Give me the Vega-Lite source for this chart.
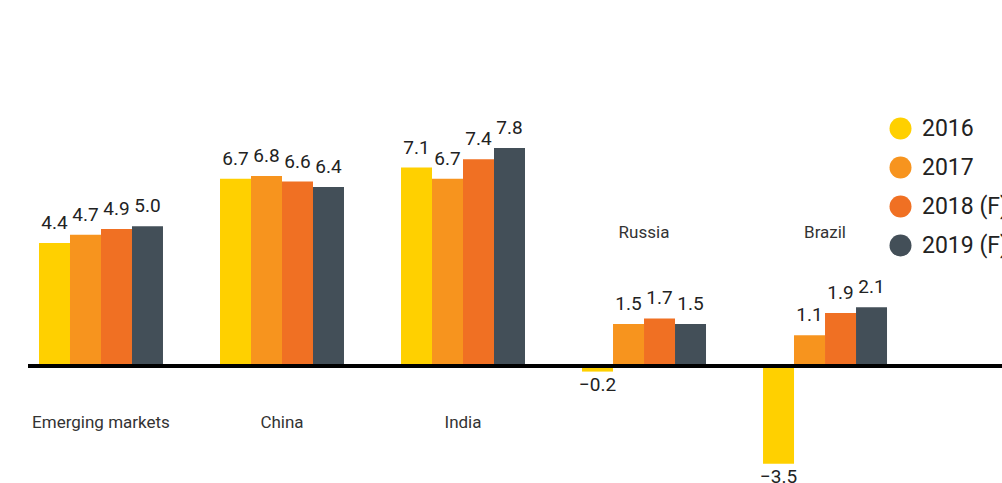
{
  "$schema": "https://vega.github.io/schema/vega-lite/v6.json",
  "width": 974,
  "height": 483,
  "padding": {"left": 28, "top": 0, "right": 0, "bottom": 0},
  "autosize": {"type": "none"},
  "config": {"view": {"stroke": null}, "font": "Roboto"},
  "data": {
    "values": [
      {"region": "Emerging markets", "year": "2016", "value": 4.4},
      {"region": "Emerging markets", "year": "2017", "value": 4.7},
      {"region": "Emerging markets", "year": "2018 (F)", "value": 4.9},
      {"region": "Emerging markets", "year": "2019 (F)", "value": 5.0},
      {"region": "China", "year": "2016", "value": 6.7},
      {"region": "China", "year": "2017", "value": 6.8},
      {"region": "China", "year": "2018 (F)", "value": 6.6},
      {"region": "China", "year": "2019 (F)", "value": 6.4},
      {"region": "India", "year": "2016", "value": 7.1},
      {"region": "India", "year": "2017", "value": 6.7},
      {"region": "India", "year": "2018 (F)", "value": 7.4},
      {"region": "India", "year": "2019 (F)", "value": 7.8},
      {"region": "Russia", "year": "2016", "value": -0.2},
      {"region": "Russia", "year": "2017", "value": 1.5},
      {"region": "Russia", "year": "2018 (F)", "value": 1.7},
      {"region": "Russia", "year": "2019 (F)", "value": 1.5},
      {"region": "Brazil", "year": "2016", "value": -3.5},
      {"region": "Brazil", "year": "2017", "value": 1.1},
      {"region": "Brazil", "year": "2018 (F)", "value": 1.9},
      {"region": "Brazil", "year": "2019 (F)", "value": 2.1}
    ]
  },
  "layer": [
    {
      "mark": {"type": "bar"},
      "encoding": {
        "x": {
          "field": "region", "type": "nominal",
          "sort": ["Emerging markets", "China", "India", "Russia", "Brazil"],
          "scale": {"paddingInner": 0.315, "paddingOuter": 0.348, "align": 0.0873},
          "axis": null
        },
        "xOffset": {
          "field": "year", "type": "nominal",
          "sort": ["2016", "2017", "2018 (F)", "2019 (F)"],
          "scale": {"paddingInner": 0, "paddingOuter": 0}
        },
        "y": {
          "field": "value", "type": "quantitative",
          "scale": {"domain": [-4.186, 13.095], "nice": false, "zero": false},
          "axis": null
        },
        "color": {
          "field": "year", "type": "nominal",
          "scale": {
            "domain": ["2016", "2017", "2018 (F)", "2019 (F)"],
            "range": ["#FFD000", "#F7941E", "#F07023", "#434F58"]
          },
          "legend": {
            "orient": "none", "legendX": 861, "legendY": 117,
            "title": null, "symbolType": "circle", "symbolSize": 484,
            "symbolStrokeWidth": 0, "symbolOpacity": 1,
            "labelFontSize": 23, "labelFont": "Roboto", "labelColor": "#222222",
            "rowPadding": 15, "labelOffset": 10, "labelLimit": 0
          }
        }
      }
    },
    {
      "mark": {"type": "rule", "color": "#000000", "strokeWidth": 2.5},
      "encoding": {"y": {"datum": 0}}
    },
    {
      "transform": [{"filter": "datum.value >= 0"}],
      "mark": {"type": "text", "fontSize": 19, "color": "#222222", "baseline": "alphabetic", "dy": -14},
      "encoding": {
        "x": {"field": "region", "type": "nominal", "sort": ["Emerging markets", "China", "India", "Russia", "Brazil"]},
        "xOffset": {"field": "year", "type": "nominal", "sort": ["2016", "2017", "2018 (F)", "2019 (F)"]},
        "y": {"field": "value", "type": "quantitative"},
        "text": {"field": "value", "type": "quantitative", "format": ".1f"}
      }
    },
    {
      "transform": [{"filter": "datum.value < 0"}],
      "mark": {"type": "text", "fontSize": 19, "color": "#222222", "baseline": "top", "dy": 4},
      "encoding": {
        "x": {"field": "region", "type": "nominal", "sort": ["Emerging markets", "China", "India", "Russia", "Brazil"]},
        "xOffset": {"field": "year", "type": "nominal", "sort": ["2016", "2017", "2018 (F)", "2019 (F)"]},
        "y": {"field": "value", "type": "quantitative"},
        "text": {"field": "value", "type": "quantitative", "format": ".1f"}
      }
    },
    {
      "transform": [
        {"filter": "datum.year == '2016'"},
        {"filter": "datum.value >= 0"}
      ],
      "mark": {"type": "text", "fontSize": 17, "color": "#333333", "baseline": "middle"},
      "encoding": {
        "x": {"field": "region", "type": "nominal", "sort": ["Emerging markets", "China", "India", "Russia", "Brazil"]},
        "y": {"datum": -2.04},
        "text": {"field": "region"}
      }
    },
    {
      "transform": [
        {"filter": "datum.year == '2016'"},
        {"filter": "datum.value < 0"}
      ],
      "mark": {"type": "text", "fontSize": 17, "color": "#333333", "baseline": "middle"},
      "encoding": {
        "x": {"field": "region", "type": "nominal", "sort": ["Emerging markets", "China", "India", "Russia", "Brazil"]},
        "y": {"datum": 4.76},
        "text": {"field": "region"}
      }
    }
  ]
}
